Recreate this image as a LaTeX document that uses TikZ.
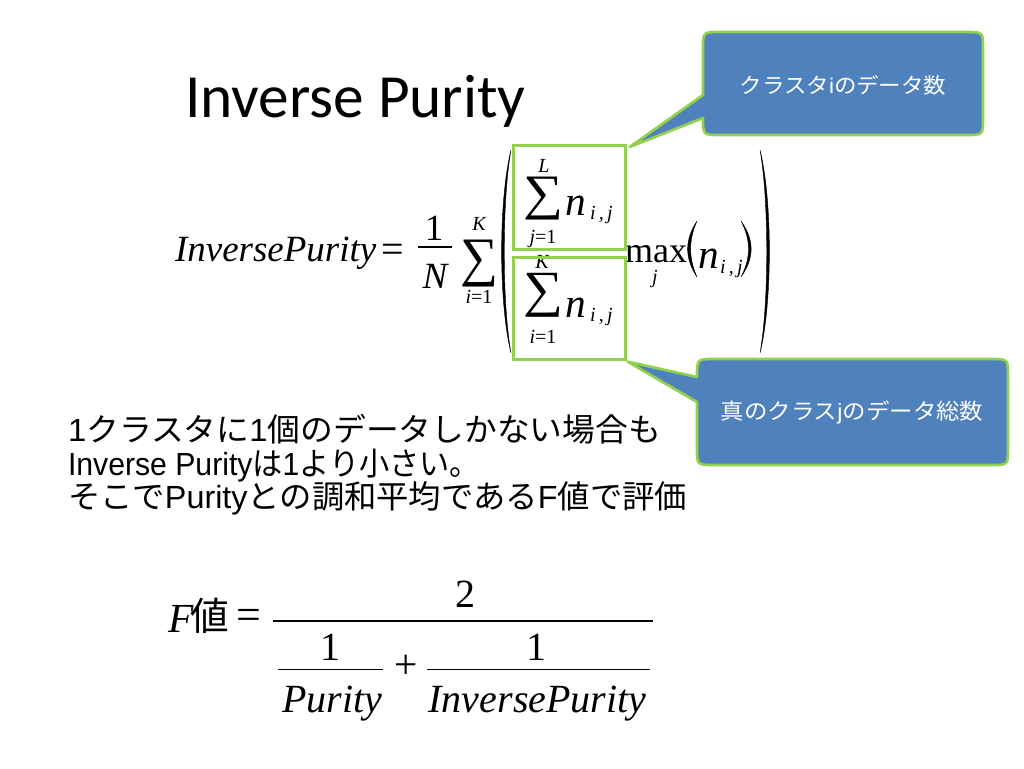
\documentclass[tikz,border=0pt]{standalone}
\usepackage[no-math]{fontspec}
\usepackage{graphicx}
\usetikzlibrary{calc}
\newfontfamily\tms{Liberation Serif}
\newfontfamily\jp{Noto Sans CJK JP}
\newfontfamily\lat{Liberation Sans}
\newfontfamily\ttl{Carlito}
\newcommand\fsz[1]{\fontsize{#1pt}{#1pt}\selectfont}
\newcommand\bigsum{{\tms ∑}}
\definecolor{blu}{HTML}{4F81BD}
\definecolor{grn}{HTML}{92D050}
\tikzset{
  txt/.style={inner sep=0pt, outer sep=0pt},
  grnbox/.style={draw=grn, line width=2pt, inner sep=0pt},
  callout/.style={fill=blu, draw=grn, line width=2pt, line join=round},
  fracline/.style={line width=1.1pt},
  thinline/.style={line width=0.7pt},
  parenfill/.style={fill=black, draw=black, line width=0.3pt},
}
\begin{document}
\begin{tikzpicture}[x=0.75pt,y=-0.75pt]
\useasboundingbox[fill=white] (0,0) rectangle (1024,768);

% title
\node[txt,anchor=base west] (title) at (185,117) {\ttl\fsz{46}Inverse Purity};

% ---------- top formula ----------
\node[txt,anchor=base west] (ip) at (175,261) {\tms\itshape\fsz{27.75}InversePurity};
\node[txt,anchor=base] (eq) at (392.5,262) {\tms\fsz{30}=};
\node[txt,anchor=base] (one) at (434,240) {\tms\fsz{27.75}1};
\node[txt,anchor=base] (nN) at (435,288) {\tms\itshape\fsz{27.75}N};
\draw[fracline] (418,247) -- (452,247);
\node[txt] (sig0) at (479,263.5) {\resizebox*{28.5pt}{35.25pt}{\bigsum}};
\node[txt,anchor=base] (k0) at (479,230) {\tms\itshape\fsz{15}K};
\node[txt,anchor=base] (i0) at (479,303) {\tms\fsz{15}\textit{i}=1};

% big parentheses
\fill[parenfill] (511,150) .. controls (498.5,200) and (498.5,303) .. (511,353)
  .. controls (502,303) and (502,200) .. (511,150) -- cycle;
\fill[parenfill] (760,150) .. controls (772.5,200) and (772.5,303) .. (760,353)
  .. controls (769,303) and (769,200) .. (760,150) -- cycle;

% numerator
\node[txt,anchor=base] (lL) at (544,172) {\tms\itshape\fsz{15}L};
\node[txt] (sig1) at (543,198.5) {\resizebox*{30pt}{32.25pt}{\bigsum}};
\node[txt,anchor=base west] (n1) at (565,215) {\tms\itshape\fsz{31}n};
\node[txt,anchor=base west] (s1) at (590,219) {\tms\itshape\fsz{15}i\,,\,j};
\node[txt,anchor=base] (j1) at (543,243) {\tms\fsz{15}\textit{j}=1};
\draw[fracline] (522,249) -- (617,249);
% denominator
\node[txt,anchor=base] (k2) at (542,268) {\tms\itshape\fsz{15}K};
\node[txt] (sig2) at (543,295) {\resizebox*{30pt}{33pt}{\bigsum}};
\node[txt,anchor=base west] (n2) at (565,317) {\tms\itshape\fsz{31}n};
\node[txt,anchor=base west] (s2) at (590,321) {\tms\itshape\fsz{15}i\,,\,j};
\node[txt,anchor=base] (i2) at (543,343) {\tms\fsz{15}\textit{i}=1};

% max part
\node[txt,anchor=base west] (mx) at (625,262) {\tms\fsz{27}max};
\node[txt,anchor=base] (mj) at (655,283) {\tms\itshape\fsz{15}j};
\fill[parenfill] (697,221) .. controls (684.5,240) and (684.5,258) .. (697,277)
  .. controls (688.5,258) and (688.5,240) .. (697,221) -- cycle;
\node[txt,anchor=base west] (n3) at (698,268) {\tms\itshape\fsz{31}n};
\node[txt,anchor=base west] (s3) at (720,273) {\tms\itshape\fsz{15}i\,,\,j};
\fill[parenfill] (741,221) .. controls (754.5,240) and (754.5,258) .. (741,277)
  .. controls (751,258) and (751,240) .. (741,221) -- cycle;

% green highlight boxes
\node[grnbox,anchor=north west,minimum width=84pt,minimum height=78pt] (numbox) at (512,144) {};
\node[grnbox,anchor=north west,minimum width=84pt,minimum height=76.5pt] (denbox) at (512,256) {};

% callout 1
\coordinate (tip1) at ($(numbox.north east)+(3,3)$);
\draw[callout] (703,95) -- (tip1) -- (703,118) .. controls (703,135) .. (720,135)
  -- (966,135) .. controls (983,135) .. (983,118) -- (983,49)
  .. controls (983,32) .. (966,32) -- (720,32) .. controls (703,32) .. (703,49) -- cycle;
\node[txt,text=white] (c1) at (843,85) {\resizebox{155pt}{\height}{\jp\fsz{16}クラスタ{\lat i}のデータ数}};

% callout 2
\coordinate (tip2) at ($(denbox.south east)+(1,1)$);
\draw[callout] (tip2) -- (697,377) .. controls (697,359) .. (714,359)
  -- (991,359) .. controls (1008,359) .. (1008,376) -- (1008,448)
  .. controls (1008,465) .. (991,465) -- (714,465) .. controls (697,465) .. (697,448)
  -- (697,402) -- cycle;
\node[txt,text=white] (c2) at (852,412) {\resizebox{197pt}{\height}{\jp\fsz{16.5}真のクラス{\lat j}のデータ総数}};

% body text
\node[txt,anchor=base west] (l1) at (68,441) {\resizebox{444.75pt}{\height}{\jp\fsz{24}{\lat 1}クラスタに{\lat 1}個のデータしかない場合も}};
\node[txt,anchor=base west] (l2) at (68,475) {\resizebox{309pt}{\height}{\jp\fsz{24}{\lat Inverse Purity}は{\lat 1}より小さい。}};
\node[txt,anchor=base west] (l3) at (68,508) {\resizebox{464.25pt}{\height}{\jp\fsz{24}そこで{\lat Purity}との調和平均である{\lat F}値で評価}};

% ---------- F formula ----------
\node[txt,anchor=base west] (fF) at (168,632) {\tms\itshape\fsz{31}F};
\node[txt,anchor=base west] (fv) at (190,630) {\jp\fsz{29}値};
\node[txt,anchor=base] (feq) at (248.5,629) {\tms\fsz{33}=};
\draw[fracline] (273,621) -- (653,621);
\node[txt,anchor=base] (f2) at (465,607) {\tms\fsz{30}2};
\node[txt,anchor=base] (f1a) at (330,660) {\tms\fsz{30}1};
\draw[thinline] (278,669) -- (383,669);
\node[txt,anchor=base] (fp) at (332.5,712) {\tms\itshape\fsz{30}Purity};
\node[txt,anchor=base] (fplus) at (406,678) {\tms\fsz{31}+};
\node[txt,anchor=base] (f1b) at (536.5,660) {\tms\fsz{30}1};
\draw[thinline] (427,669) -- (650,669);
\node[txt,anchor=base] (fip) at (537.5,712) {\tms\itshape\fsz{30}InversePurity};
\end{tikzpicture}
\end{document}
